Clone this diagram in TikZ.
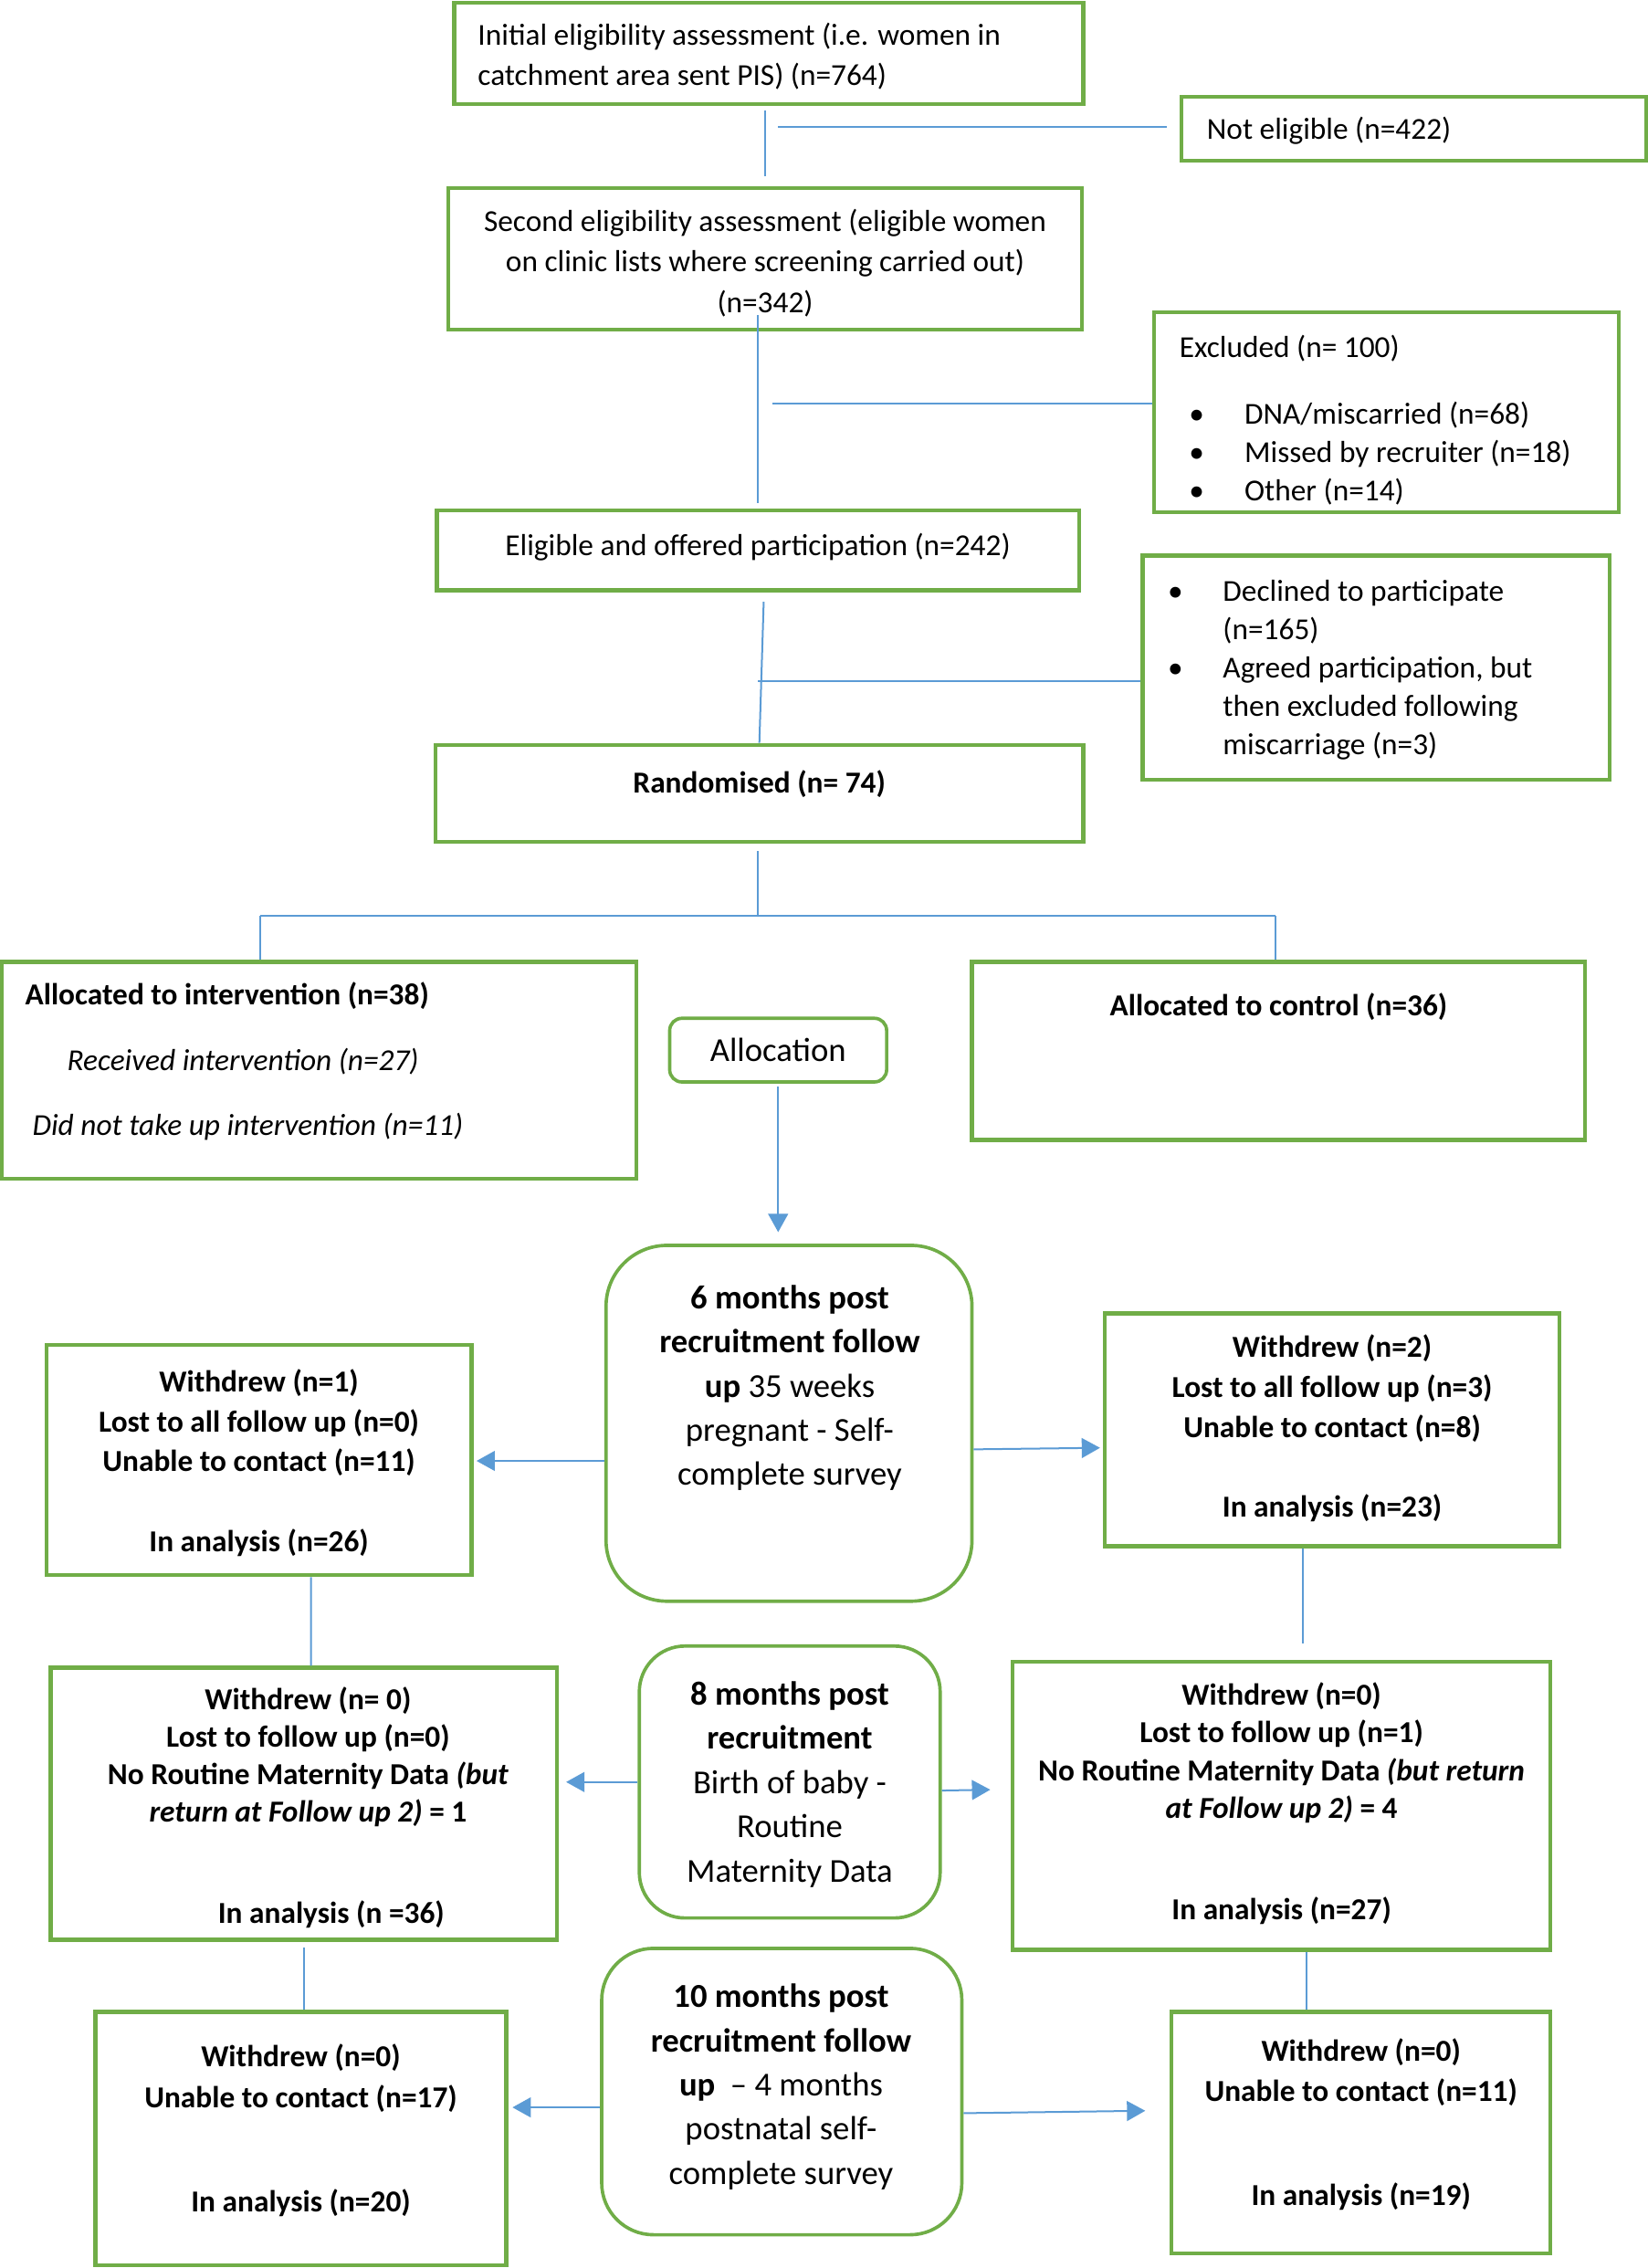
\documentclass[tikz,border=0pt]{standalone}
\usepackage{fontspec}
\setmainfont{Carlito}
\usetikzlibrary{arrows.meta}
\definecolor{gr}{HTML}{70AD47}
\definecolor{bl}{HTML}{5B9BD5}
\tikzset{
 gbox/.style={draw=gr, line width=1.3pt, inner sep=0pt, rectangle},
 rbox/.style={gbox, line width=1.1pt, rounded corners=#1},
 txt/.style={inner sep=0pt, font=\fontsize{10}{13.3}\selectfont},
 conn/.style={draw=bl, line width=0.6pt},
 arr/.style={conn, -{Triangle[length=6pt,width=6.5pt]}, fill=bl},
}
\newcommand\bx[7][]{\node[gbox,#1,minimum width={(#4-#2)*0.475pt},minimum height={(#5-#3)*0.475pt}] (#6) at ({(#2+#4)/2},{(#3+#5)/2}) {#7};}
\begin{document}
\begin{tikzpicture}[x=0.475pt,y=-0.475pt]
\fill[white] (0,0) rectangle (1139,1568);
\useasboundingbox (0,0) rectangle (1139,1568);
% boxes
\bx{314}{2}{749}{72}{init}{}
\bx{817}{67}{1138}{111}{noteligible}{}
\bx{310}{130}{748}{228}{second}{}
\bx{798}{216}{1119}{354}{excluded}{}
\bx{302}{353}{746}{408}{eligible}{}
\bx{790}{384}{1113}{539}{declined}{}
\bx{301}{515}{749}{582}{randomised}{}
\bx{1}{665}{440}{815}{interv}{}
\bx{672}{665}{1096}{788}{control}{}
\bx[rbox=4pt,font=\fontsize{11}{14.5}\selectfont]{463}{704}{613}{748}{allocation}{Allocation}
\bx[rbox=20pt]{419}{861}{672}{1107}{sixmo}{}
\bx{32}{930}{326}{1089}{lwa}{}
\bx{764}{908}{1078}{1069}{rwa}{}
\bx[rbox=15pt]{442}{1138}{650}{1326}{eightmo}{}
\bx{35}{1153}{385}{1341}{lwb}{}
\bx{700}{1149}{1072}{1348}{rwb}{}
\bx[rbox=17pt]{416}{1347}{665}{1545}{tenmo}{}
\bx{66}{1391}{350}{1566}{lwc}{}
\bx{810}{1391}{1072}{1558}{rwc}{}
% texts (base anchor = baseline of last line)
\node[txt,anchor=base west,align=left] (init-t) at (330,59) {Initial eligibility assessment (i.e. women in\\catchment area sent PIS) (n=764)};
\node[txt,anchor=base west] (ne-t) at (834,96) {Not eligible (n=422)};
\node[txt,anchor=base,align=center] (sec-t) at (529,216) {Second eligibility assessment (eligible women\\on clinic lists where screening carried out)\\(n=342)};
\node[txt,anchor=base west,align=left,font=\fontsize{10}{12.6}\selectfont] (exc-t) at (815,346) {Excluded (n= 100)\\[9.3pt]\hspace*{3.2pt}\makebox[18.2pt][l]{\textbullet}DNA/miscarried (n=68)\\\hspace*{3.2pt}\makebox[18.2pt][l]{\textbullet}Missed by recruiter (n=18)\\\hspace*{3.2pt}\makebox[18.2pt][l]{\textbullet}Other (n=14)};
\node[txt,anchor=base] (eli-t) at (524,384) {Eligible and offered participation (n=242)};
\node[txt,anchor=base west,align=left,font=\fontsize{10}{12.6}\selectfont] (dec-t) at (807,522) {\makebox[18.1pt][l]{\textbullet}Declined to participate\\\hspace*{18.1pt}(n=165)\\\makebox[18.1pt][l]{\textbullet}Agreed participation, but\\\hspace*{18.1pt}then excluded following\\\hspace*{18.1pt}miscarriage (n=3)};
\node[txt,anchor=base] (ran-t) at (525,548) {\bfseries Randomised (n= 74)};
\node[txt,anchor=base west,align=left,font=\fontsize{10}{21.4}\selectfont] (int-t) at (17,785) {\textbf{Allocated to intervention (n=38)}\\\hspace*{13.8pt}\textit{Received intervention (n=27)}\\\hspace*{2.4pt}\textit{Did not take up intervention (n=11)}};
\node[txt,anchor=base] (con-t) at (884,702) {\bfseries Allocated to control (n=36)};
\node[txt,anchor=base,align=center,font=\fontsize{11}{14.5}\selectfont] (six-t) at (546,1027) {\textbf{6 months post}\\\textbf{recruitment follow}\\\textbf{up} 35 weeks\\pregnant - Self-\\complete survey};
\node[txt,anchor=base,align=center,font=\fontsize{10}{13.1}\selectfont\bfseries] (lwa-t) at (179,1073) {Withdrew (n=1)\\Lost to all follow up (n=0)\\Unable to contact (n=11)\\[13.3pt]In analysis (n=26)};
\node[txt,anchor=base,align=center,font=\fontsize{10}{13.3}\selectfont\bfseries] (rwa-t) at (921,1049) {Withdrew (n=2)\\Lost to all follow up (n=3)\\Unable to contact (n=8)\\[12.8pt]In analysis (n=23)};
\node[txt,anchor=base,align=center,font=\fontsize{11}{14.5}\selectfont] (eig-t) at (546,1301) {\textbf{8 months post}\\\textbf{recruitment}\\Birth of baby -\\Routine\\Maternity Data};
\node[txt,anchor=base,align=center,font=\fontsize{10}{12.3}\selectfont\bfseries] (lwb-t) at (213,1330) {Withdrew (n= 0)\\Lost to follow up (n=0)\\No Routine Maternity Data \textit{(but}\\\textit{return at Follow up 2)} = 1\\[21pt]\hspace*{15.2pt}In analysis (n =36)};
\node[txt,anchor=base,align=center,font=\fontsize{10}{12.35}\selectfont\bfseries] (rwb-t) at (886,1327) {Withdrew (n=0)\\Lost to follow up (n=1)\\No Routine Maternity Data \textit{(but return}\\\textit{at Follow up 2)} = 4\\[20.9pt]In analysis (n=27)};
\node[txt,anchor=base,align=center,font=\fontsize{11}{14.5}\selectfont] (ten-t) at (540,1510) {\textbf{10 months post}\\\textbf{recruitment follow}\\\textbf{up}~~– 4 months\\postnatal self-\\complete survey};
\node[txt,anchor=base,align=center,font=\fontsize{10}{13.3}\selectfont\bfseries] (lwc-t) at (208,1529) {Withdrew (n=0)\\Unable to contact (n=17)\\[20.9pt]In analysis (n=20)};
\node[txt,anchor=base,align=center,font=\fontsize{10}{13.3}\selectfont\bfseries] (rwc-t) at (941,1525) {Withdrew (n=0)\\Unable to contact (n=11)\\[20.9pt]In analysis (n=19)};
% connectors
\draw[conn,shorten <=1.4pt,shorten >=3.3pt] (init.south -| second.north) -- (second.north);
\coordinate (b1) at (538,88);
\draw[conn,shorten >=4.3pt] (b1) -- (b1 -| noteligible.west);
\coordinate (c2) at (524,218);
\draw[conn,shorten >=1.9pt] (c2) -- (c2 |- eligible.north);
\coordinate (b2) at (534,279);
\draw[conn] (b2) -- (b2 -| excluded.west);
\coordinate (c3) at (528,416);
\draw[conn] (c3) -- (randomised.north);
\coordinate (b3) at (524,471);
\draw[conn] (b3) -- (b3 -| declined.west);
\coordinate (c4) at (524,633);
\draw[conn,shorten <=2.4pt] (randomised.south -| c4) -- (c4);
\coordinate (sl) at (180,633);
\coordinate (sr) at (882,633);
\draw[conn] (sl) -- (sr);
\draw[conn] (sl) -- (sl |- interv.north);
\draw[conn] (sr) -- (sr |- control.north);
\draw[arr,shorten <=1pt,shorten >=3.8pt] (allocation.south) -- (allocation.south |- sixmo.north);
\draw[arr,shorten >=1pt] ([yshift=-12.35pt]sixmo.west) -- ([yshift=-12.35pt]sixmo.west -| lwa.east);
\draw[arr,shorten >=1pt] ([yshift=-8.55pt]sixmo.east) -- ([yshift=-5.9pt]rwa.west);
\draw[conn] ([xshift=17.1pt]lwa.south) -- ([xshift=2.4pt]lwb.north);
\draw[conn] ([xshift=-9.5pt]rwa.south) -- ++(0,66);
\draw[arr,shorten >=2.4pt] (eightmo.west) -- (eightmo.west -| lwb.east);
\draw[arr,shorten >=6.65pt] ([yshift=-2.8pt]eightmo.east) -- ([yshift=-2.4pt]eightmo.east -| rwb.west);
\draw[conn] ([yshift=-2pt]lwb.south) -- (lwb.south |- lwc.north);
\draw[conn] ([xshift=8.1pt]rwb.south) -- ([xshift=8.1pt]rwb.south |- rwc.north);
\draw[arr,shorten >=1.4pt] ([yshift=-5.2pt]tenmo.west) -- ([yshift=-5.2pt]tenmo.west -| lwc.east);
\draw[arr,shorten >=8pt] ([yshift=-7.1pt]tenmo.east) -- ([yshift=-6.2pt]tenmo.east -| rwc.west);
\end{tikzpicture}
\end{document}
